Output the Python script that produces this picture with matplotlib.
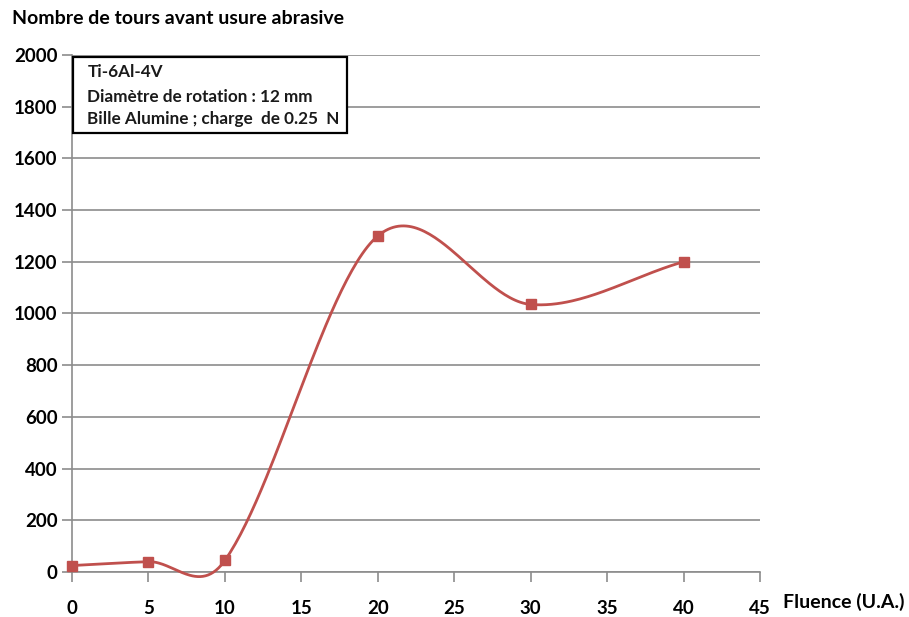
import numpy as np
import matplotlib.pyplot as plt
from matplotlib.patches import Rectangle

# data
fluence = [0, 5, 10, 20, 30, 40]
tours = [25, 40, 45, 1300, 1035, 1200]

xticks = [0, 5, 10, 15, 20, 25, 30, 35, 40, 45]
yticks = [0, 200, 400, 600, 800, 1000, 1200, 1400, 1600, 1800, 2000]

plt.rcParams['font.family'] = ['Lato', 'DejaVu Sans']


def smooth(xs, ys, n=60):
    # smoothed line like the spreadsheet one: hermite/bezier pieces
    x = np.asarray(xs, float)
    y = np.asarray(ys, float)
    m = np.zeros(len(x))
    m[0] = (y[1] - y[0]) / (x[1] - x[0])
    m[-1] = (y[-1] - y[-2]) / (x[-1] - x[-2])
    m[1:-1] = (y[2:] - y[:-2]) / (x[2:] - x[:-2])
    px, py = [], []
    for i in range(len(x) - 1):
        h = x[i + 1] - x[i]
        t = np.linspace(0, 1, n)
        c1 = y[i] + m[i] * h / 3
        c2 = y[i + 1] - m[i + 1] * h / 3
        px.append(x[i] + h * t)
        py.append((1 - t) ** 3 * y[i] + 3 * (1 - t) ** 2 * t * c1 + 3 * (1 - t) * t ** 2 * c2 + t ** 3 * y[i + 1])
    return np.concatenate(px), np.concatenate(py)


fig = plt.figure(figsize=(9.09, 6.17), dpi=100)
ax = fig.add_axes([0.0792, 0.0729, 0.757, 0.838])

gcol = '#8c8c8c'
col = '#C0504D'

sx, sy = smooth(fluence, tours)
ax.plot(sx, sy, color=col, lw=2, zorder=3, clip_on=False)
ax.plot(fluence, tours, 's', color=col, ms=7, zorder=4, clip_on=False)

ax.set_xlim(0, 45)
ax.set_ylim(0, 2000)
ax.set_xticks(xticks)
ax.set_yticks(yticks)
ax.grid(axis='y', color=gcol, lw=1.2)
ax.set_axisbelow(True)

for s in ['top', 'right']:
    ax.spines[s].set_visible(False)
ax.spines['left'].set_color(gcol)
ax.spines['bottom'].set_color(gcol)
ax.spines['left'].set_linewidth(1.2)
ax.spines['bottom'].set_linewidth(1.2)

ax.tick_params(axis='both', colors=gcol, length=7, width=1.2, labelcolor='black', labelsize=13.5)
ax.tick_params(axis='x', pad=13)
for lab in ax.get_xticklabels() + ax.get_yticklabels():
    lab.set_fontweight('bold')

fig.text(0.013, 0.970, 'Nombre de tours avant usure abrasive', fontsize=14,
         fontweight='bold', va='center', ha='left')
fig.text(0.861, 0.024, 'Fluence (U.A.)', fontsize=14, fontweight='bold',
         va='center', ha='left')

# annotation box
box = Rectangle((0.080, 0.785), 0.302, 0.123, transform=fig.transFigure,
                facecolor='white', edgecolor='black', lw=1.6, zorder=5)
fig.patches.append(box)
lines = ['Ti-6Al-4V', 'Diamètre de rotation : 12 mm', 'Bille Alumine ; charge  de 0.25  N']
ys = [0.884, 0.842, 0.807]
for t, yy in zip(lines, ys):
    fig.text(0.096, yy, t, fontsize=12.3, fontweight='bold', va='center', ha='left',
             color='#1a1a1a', zorder=6)

fig.savefig('out.png', dpi=100)
